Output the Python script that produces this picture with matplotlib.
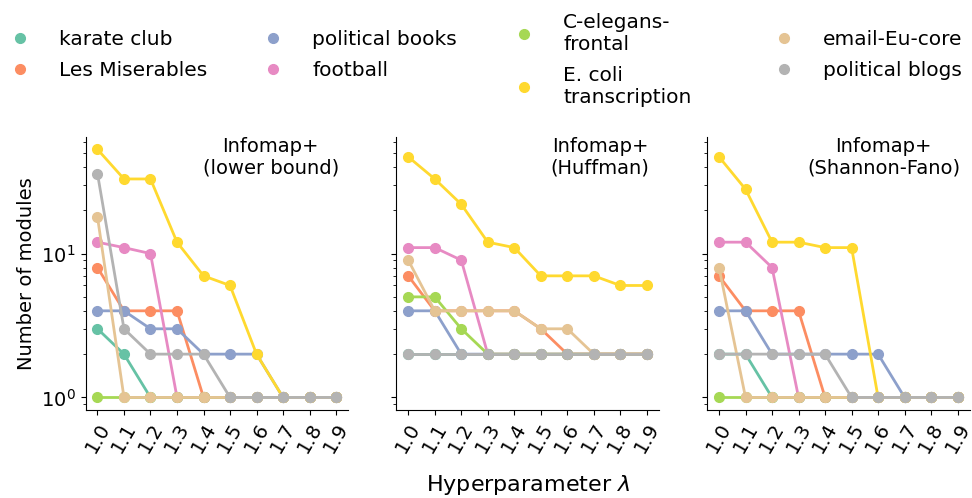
import matplotlib.pyplot as plt

plt.rcParams.update({"font.size": 14})

lambdas = [1.0, 1.1, 1.2, 1.3, 1.4, 1.5, 1.6, 1.7, 1.8, 1.9]

datasets = [
    "karate club",
    "Les Miserables",
    "political books",
    "football",
    "C-elegans-\nfrontal",
    "E. coli\ntranscription",
    "email-Eu-core",
    "political blogs",
]
colors = ["#66c2a5", "#fc8d62", "#8da0cb", "#e78ac3",
          "#a6d854", "#ffd92f", "#e5c494", "#b3b3b3"]

titles = ["Infomap+\n(lower bound)", "Infomap+\n(Huffman)", "Infomap+\n(Shannon-Fano)"]

# number of modules per dataset, one list per encoding
lower_bound = [
    [3, 2, 1, 1, 1, 1, 1, 1, 1, 1],
    [8, 4, 4, 4, 1, 1, 1, 1, 1, 1],
    [4, 4, 3, 3, 2, 2, 2, 1, 1, 1],
    [12, 11, 10, 1, 1, 1, 1, 1, 1, 1],
    [1, 1, 1, 1, 1, 1, 1, 1, 1, 1],
    [53, 33, 33, 12, 7, 6, 2, 1, 1, 1],
    [18, 1, 1, 1, 1, 1, 1, 1, 1, 1],
    [36, 3, 2, 2, 2, 1, 1, 1, 1, 1],
]
huffman = [
    [2, 2, 2, 2, 2, 2, 2, 2, 2, 2],
    [7, 4, 4, 4, 4, 3, 2, 2, 2, 2],
    [4, 4, 2, 2, 2, 2, 2, 2, 2, 2],
    [11, 11, 9, 2, 2, 2, 2, 2, 2, 2],
    [5, 5, 3, 2, 2, 2, 2, 2, 2, 2],
    [47, 33, 22, 12, 11, 7, 7, 7, 6, 6],
    [9, 4, 4, 4, 4, 3, 3, 2, 2, 2],
    [2, 2, 2, 2, 2, 2, 2, 2, 2, 2],
]
shannon_fano = [
    [2, 2, 1, 1, 1, 1, 1, 1, 1, 1],
    [7, 4, 4, 4, 1, 1, 1, 1, 1, 1],
    [4, 4, 2, 2, 2, 2, 2, 1, 1, 1],
    [12, 12, 8, 1, 1, 1, 1, 1, 1, 1],
    [1, 1, 1, 1, 1, 1, 1, 1, 1, 1],
    [47, 28, 12, 12, 11, 11, 1, 1, 1, 1],
    [8, 1, 1, 1, 1, 1, 1, 1, 1, 1],
    [2, 2, 2, 2, 2, 1, 1, 1, 1, 1],
]

W, H = 972, 498
fig, axes = plt.subplots(1, 3, figsize=(W / 100, H / 100), dpi=100, sharey=True)
fig.subplots_adjust(left=0.088, right=0.9975, bottom=0.177, top=0.725, wspace=0.184)

for ax, title, table in zip(axes, titles, [lower_bound, huffman, shannon_fano]):
    for name, col, vals in zip(datasets, colors, table):
        ax.plot(lambdas, vals, "-o", color=col, lw=2, ms=7, label=name)
    ax.set_yscale("log")
    ax.set_xticks(lambdas)
    ax.set_xticklabels([f"{v:.1f}" for v in lambdas], rotation=60)
    ax.spines["top"].set_visible(False)
    ax.spines["right"].set_visible(False)
    ax.text(0.965, 1.0, title, transform=ax.transAxes, ha="right", va="top",
            multialignment="center", fontsize=14)

axes[0].set_ylabel("Number of modules")
fig.text(0.543, 0.026, r"Hyperparameter $\lambda$", ha="center", va="center", fontsize=16)

# legend: four columns of two entries, placed one by one
handles, labels = axes[0].get_legend_handles_labels()
col_pos = [(10, 30), (263, 30), (514, 13), (774, 30)]
for i, (px, py) in enumerate(col_pos):
    leg = fig.legend(handles[2 * i:2 * i + 2], labels[2 * i:2 * i + 2],
                     loc="upper left", bbox_to_anchor=(px / W, 1 - py / H),
                     frameon=False, handlelength=1.0, handletextpad=1.45,
                     numpoints=1, fontsize=14.5, borderpad=0, borderaxespad=0,
                     labelspacing=0.62)
    for h in leg.legend_handles:
        h.set_linestyle("")

fig.savefig("out.png")
